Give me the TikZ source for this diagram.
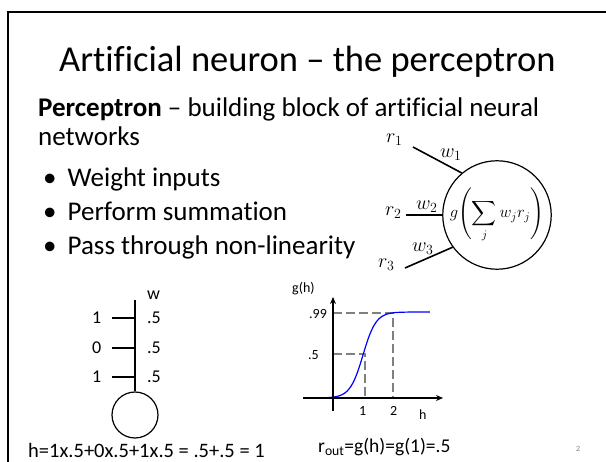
\RequirePackage{fix-cm}
\documentclass[tikz,border=0pt]{standalone}
\usepackage{amsmath}
\usepackage{exscale}
\usepackage{fontspec}
\setmainfont{Carlito}[Ligatures={TeX,NoCommon}]
\usetikzlibrary{arrows.meta}
\begin{document}
\begin{tikzpicture}[x=1pt,y=-1pt,
  txt/.style={inner sep=0pt,anchor=base west},
  body/.style={txt,font=\fontsize{27}{32}\selectfont},
  lab/.style={txt,font=\fontsize{18}{21}\selectfont},
  glab/.style={txt,font=\fontsize{14}{16}\selectfont},
  mlab/.style={txt,font=\fontsize{20}{24}\selectfont},
  wline/.style={line width=1.6pt},
  dashg/.style={gray,line width=1.8pt,dash pattern=on 9pt off 4pt},
  axis/.style={line width=1.2pt,-{Stealth[length=7pt,width=6pt]}},
]
\useasboundingbox (0,0) rectangle (606,462);
% frame
\draw[line width=1.5pt] (8,462) -- (8,12) -- (606,12);
% title and text
\node[txt,font=\fontsize{36.5}{42}\selectfont] (title) at (59,72) {Artificial neuron – the perceptron};
\node[body] (l1) at (38,117) {\textbf{Perceptron} – building block of artificial neural};
\node[body] (l2) at (38,146) {networks};
\node[body] (b1) at (43,187) {•\hspace{11pt}Weight inputs};
\node[body] (b2) at (43,221) {•\hspace{11pt}Perform summation};
\node[body] (b3) at (43,255) {•\hspace{11pt}Pass through non-linearity};
% neuron
\node[draw,circle,line width=1.2pt,minimum size=102pt,inner sep=0pt,font=\fontsize{16.5}{19}\selectfont] (neuron) at (497,215) {$\displaystyle g\!\left(\sum_j w_j r_j\right)$};
\coordinate (s1) at (413,147);
\coordinate (s2) at (406,215);
\coordinate (s3) at (405,268);
\draw[wline] (s1) -- (neuron.130);
\draw[wline] (s2) -- (neuron.180);
\draw[wline] (s3) -- (neuron.216);
\node[mlab] (r1) at (386,143) {$r_1$};
\node[mlab] (w1) at (440,158) {$w_1$};
\node[mlab] (r2) at (385,216) {$r_2$};
\node[mlab] (w2) at (416,210) {$w_2$};
\node[mlab] (r3) at (378,268) {$r_3$};
\node[mlab] (w3) at (412,252) {$w_3$};
% small neuron
\node[draw,circle,line width=1.2pt,minimum size=46pt,inner sep=0pt] (small) at (135,415) {};
\coordinate (wtop) at (135,300);
\draw[wline] (wtop) -- (small.north);
\coordinate (t1) at (112,318);
\coordinate (t2) at (112,348);
\coordinate (t3) at (112,377);
\coordinate (v1) at (135,318);
\coordinate (v2) at (135,348);
\coordinate (v3) at (135,377);
\draw[wline] (t1) -- (v1);
\draw[wline] (t2) -- (v2);
\draw[wline] (t3) -- (v3);
\node[lab] (i1) at (92,324) {1};
\node[lab] (i2) at (92,354) {0};
\node[lab] (i3) at (92,383) {1};
\node[lab] (ww) at (147,300) {w};
\node[lab] (a1) at (147,324) {.5};
\node[lab] (a2) at (147,354) {.5};
\node[lab] (a3) at (147,383) {.5};
\node[txt,font=\fontsize{20.5}{24}\selectfont] (hsum) at (28,458) {h=1x.5+0x.5+1x.5 = .5+.5 = 1};
% graph
\coordinate (xa0) at (303,398);
\coordinate (xa1) at (443,398);
\coordinate (ya0) at (333,411);
\coordinate (ya1) at (333,297);
\draw[dashg] (333,313) -- (393,313) -- (393,398);
\draw[dashg] (333,354) -- (365,354) -- (365,398);
\draw[blue,line width=1.2pt] plot[domain=-0.83:3.23,samples=80,smooth] ({333+30*\x},{398-86*(1/(1+exp(-4.6*(\x-1))))});
\draw[axis] (xa0) -- (xa1);
\draw[axis] (ya0) -- (ya1);
\node[glab] (gh) at (292,293) {g(h)};
\node[glab] (l99) at (309,319) {.99};
\node[glab] (l5) at (308,360) {.5};
\node[glab] (x1) at (359,416) {1};
\node[glab] (x2) at (390,416) {2};
\node[glab] (xh) at (419,420) {h};
\node[txt,font=\fontsize{19.5}{22}\selectfont] (rout) at (318,453) {r\textsubscript{out}=g(h)=g(1)=.5};
\node[txt,gray,font=\fontsize{8}{10}\selectfont] (pg) at (576,452) {2};
\end{tikzpicture}
\end{document}
